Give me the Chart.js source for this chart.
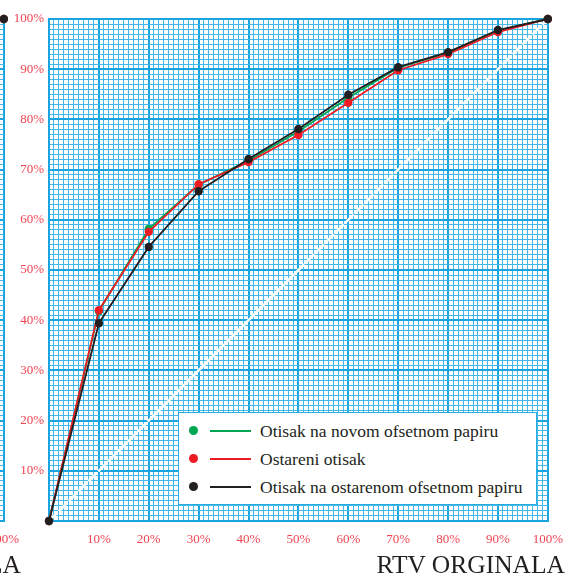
<!DOCTYPE html>
<html>
<head>
<meta charset="utf-8">
<script src="https://cdn.jsdelivr.net/npm/chart.js@4.4.1/dist/chart.umd.min.js"></script>
<style>
  html, body { margin: 0; padding: 0; background: #fff; }
  body { width: 574px; height: 578px; position: relative; overflow: hidden; }
  .panel { position: absolute; top: 0; width: 574px; height: 578px; }
  .panel canvas { position: absolute; left: 0; top: 0; }
  .axis-title {
    position: absolute; right: 9px; top: 552px;
    font: 25.5px "Liberation Serif", serif; line-height: 25px; color: #231f20;
    white-space: nowrap;
  }
  .legend {
    position: absolute; left: 178px; top: 412px; width: 357px; height: 91px;
    background: #fff; border: 1px solid #29abe2;
  }
  .legend .row { position: absolute; left: 0; height: 20px; width: 100%; }
  .legend .dot { position: absolute; left: 10px; top: 5px; width: 9px; height: 9px; border-radius: 50%; }
  .legend .line { position: absolute; left: 31px; top: 9px; width: 41px; height: 2px; }
  .legend .txt {
    position: absolute; left: 81px; top: 0; line-height: 20px;
    font: 17.5px "Liberation Serif", serif; color: #231f20; white-space: nowrap;
  }
</style>
</head>
<body>
<script>
// values (percent)
const xPercent = [0, 10, 20, 30, 40, 50, 60, 70, 80, 90, 100];
const novomPapir = [0, 41.8, 58.2, 67, 71.8, 77.6, 84.3, 90.3, 93.3, 97.7, 100];
const ostareniOtisak = [0, 42, 57.6, 67.1, 71.5, 76.9, 83.3, 89.8, 93, 97.4, 100];
const ostareniPapir = [0, 39.4, 54.6, 65.7, 72.1, 78.1, 84.9, 90.4, 93.4, 97.8, 100];
const diagonal = [0, 100];

const seriesNames = [
  "Otisak na novom ofsetnom papiru",
  "Ostareni otisak",
  "Otisak na ostarenom ofsetnom papiru"
];
const seriesValues = [novomPapir, ostareniOtisak, ostareniPapir];
const seriesColors = ["#00a651", "#ed1c24", "#231f20"];
const axisTitle = "RTV ORGINALA";

const gridMinor = "#42b8ea";
const gridMajor = "#1aa4df";
const tickRed = "#ef4452";

const toPoints = (xs, ys) => xs.map((x, i) => ({ x: x, y: ys[i] }));

function makePanel(left) {
  const panel = document.createElement("div");
  panel.className = "panel";
  panel.style.left = left + "px";
  document.body.appendChild(panel);

  const canvas = document.createElement("canvas");
  canvas.width = 574;
  canvas.height = 578;
  panel.appendChild(canvas);

  const title = document.createElement("div");
  title.className = "axis-title";
  title.textContent = axisTitle;
  panel.appendChild(title);

  // Legend box
  const legend = document.createElement("div");
  legend.className = "legend";
  seriesNames.forEach((name, i) => {
    const row = document.createElement("div");
    row.className = "row";
    row.style.top = (8 + i * 28) + "px";
    row.innerHTML =
      '<span class="dot" style="background:' + seriesColors[i] + '"></span>' +
      '<span class="line" style="background:' + seriesColors[i] + '"></span>' +
      '<span class="txt">' + name + "</span>";
    legend.appendChild(row);
  });
  panel.appendChild(legend);

  const datasets = [
    {
      label: "diagonal",
      data: toPoints(diagonal, diagonal),
      borderColor: "#ffffff",
      borderWidth: 2.6,
      borderDash: [12, 2],
      pointRadius: 0,
      order: 10
    }
  ];
  // later series sit on top (lower order = drawn last)
  seriesNames.forEach((name, i) => {
    datasets.push({
      label: name,
      data: toPoints(xPercent, seriesValues[i]),
      borderColor: seriesColors[i],
      backgroundColor: seriesColors[i],
      borderWidth: 1.8,
      pointRadius: 4.2,
      pointBorderWidth: 0,
      pointBackgroundColor: seriesColors[i],
      clip: false,
      order: seriesNames.length - i
    });
  });

  const gridOpts = {
    drawTicks: false,
    color: (ctx) => (ctx.tick && ctx.tick.value % 10 === 0 ? gridMajor : gridMinor),
    lineWidth: (ctx) => (ctx.tick && ctx.tick.value % 10 === 0 ? 2 : 1)
  };
  const tickFont = { family: "'Liberation Serif', 'Times New Roman', serif", size: 13 };
  const label = (v) => (v % 10 === 0 && v !== 0 ? v + "%" : "");

  new Chart(canvas, {
    type: "line",
    data: { datasets: datasets },
    options: {
      responsive: false,
      animation: false,
      layout: { padding: { top: 19, right: 23, left: 0, bottom: 0 } },
      plugins: { legend: { display: false }, tooltip: { enabled: false } },
      scales: {
        x: {
          type: "linear",
          min: 0,
          max: 100,
          grid: gridOpts,
          border: { color: gridMajor, width: 2 },
          ticks: {
            stepSize: 1,
            autoSkip: false,
            maxRotation: 0,
            minRotation: 0,
            padding: 11,
            color: tickRed,
            font: tickFont,
            callback: label
          },
          afterFit: (scale) => { scale.height = 57; }
        },
        y: {
          type: "linear",
          min: 0,
          max: 100,
          grid: gridOpts,
          border: { color: gridMajor, width: 2 },
          ticks: {
            stepSize: 1,
            autoSkip: false,
            padding: 5,
            color: tickRed,
            font: tickFont,
            callback: label
          },
          afterFit: (scale) => { scale.width = 49; }
        }
      }
    }
  });
}

// neighbouring panel, only its right edge shows
makePanel(-544);
makePanel(0);
</script>
</body>
</html>
